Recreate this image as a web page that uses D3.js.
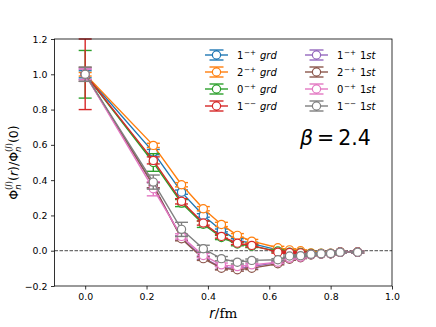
<!DOCTYPE html>
<html>
<head>
<meta charset="utf-8">
<script src="https://cdn.jsdelivr.net/npm/d3@7"></script>
<style>
  body { margin: 0; background: #fff; }
  svg { font-family: "DejaVu Sans", sans-serif; }
</style>
</head>
<body>
<svg id="chart" width="436" height="327"></svg>
<script>
// r = a*sqrt(n), lattice points
const rValues = [0, 0.222, 0.314, 0.385, 0.444, 0.496, 0.543, 0.628, 0.666, 0.702, 0.736, 0.769, 0.800, 0.831, 0.888];

const blueVals   = [1.0, 0.559, 0.332, 0.200, 0.115, 0.060, 0.040, 0.005, -0.004, -0.008, -0.015, -0.015, -0.015, -0.008, -0.008];
const orangeVals = [1.0, 0.597, 0.374, 0.238, 0.149, 0.087, 0.054, 0.017, 0.005, 0.000, -0.012, -0.014, -0.014, -0.006, -0.006];
const greenVals  = [1.0, 0.500, 0.270, 0.150, 0.075, 0.038, 0.026, -0.002, -0.008, -0.010, -0.016, -0.016, -0.016, -0.008, -0.008];
const redVals    = [1.0, 0.512, 0.280, 0.157, 0.081, 0.043, 0.030, -0.008, -0.010, -0.012, -0.018, -0.017, -0.017, -0.008, -0.008];
const purpleVals = [1.0, 0.370, 0.072, -0.040, -0.095, -0.100, -0.090, -0.066, -0.045, -0.038, -0.022, -0.018, -0.017, -0.008, -0.008];
const brownVals  = [1.0, 0.372, 0.068, -0.045, -0.099, -0.108, -0.099, -0.074, -0.048, -0.040, -0.024, -0.019, -0.017, -0.009, -0.009];
const pinkVals   = [1.0, 0.351, 0.081, -0.027, -0.080, -0.090, -0.080, -0.065, -0.042, -0.036, -0.021, -0.017, -0.016, -0.008, -0.008];
const grayVals   = [1.0, 0.389, 0.121, 0.011, -0.045, -0.065, -0.055, -0.051, -0.030, -0.028, -0.020, -0.017, -0.016, -0.008, -0.008];

const blueErr   = [0.020, 0.015, 0.012, 0.010, 0.008, 0.008, 0.008, 0.006, 0.006, 0.005, 0.005, 0.005, 0.005, 0.005, 0.005];
const orangeErr = [0.010, 0.012, 0.012, 0.012, 0.012, 0.010, 0.010, 0.008, 0.006, 0.005, 0.005, 0.005, 0.005, 0.005, 0.005];
const greenErr  = [0.135, 0.050, 0.020, 0.018, 0.012, 0.010, 0.008, 0.006, 0.006, 0.005, 0.005, 0.005, 0.005, 0.005, 0.005];
const redErr    = [0.200, 0.020, 0.015, 0.012, 0.010, 0.008, 0.008, 0.006, 0.006, 0.005, 0.005, 0.005, 0.005, 0.005, 0.005];
const purpleErr = [0.030, 0.015, 0.012, 0.010, 0.010, 0.008, 0.008, 0.006, 0.006, 0.005, 0.005, 0.005, 0.005, 0.005, 0.005];
const brownErr  = [0.040, 0.015, 0.012, 0.010, 0.010, 0.008, 0.008, 0.006, 0.006, 0.005, 0.005, 0.005, 0.005, 0.005, 0.005];
const pinkErr   = [0.030, 0.040, 0.015, 0.012, 0.010, 0.008, 0.008, 0.006, 0.006, 0.005, 0.005, 0.005, 0.005, 0.005, 0.005];
const grayErr   = [0.040, 0.040, 0.040, 0.020, 0.012, 0.010, 0.008, 0.006, 0.006, 0.005, 0.005, 0.005, 0.005, 0.005, 0.005];

const seriesNames = ['1', '2', '0', '1', '1', '2', '0', '1'];
const seriesParity = ['\u2212+', '\u2212+', '\u2212+', '\u2212\u2212', '\u2212+', '\u2212+', '\u2212+', '\u2212\u2212'];
const seriesState = ['grd', 'grd', 'grd', 'grd', '1st', '1st', '1st', '1st'];
const seriesColors = ['#1f77b4', '#ff7f0e', '#2ca02c', '#d62728', '#9467bd', '#8c564b', '#e377c2', '#7f7f7f'];
const seriesVals = [blueVals, orangeVals, greenVals, redVals, purpleVals, brownVals, pinkVals, grayVals];
const seriesErrs = [blueErr, orangeErr, greenErr, redErr, purpleErr, brownErr, pinkErr, grayErr];

const xTicks = [0.0, 0.2, 0.4, 0.6, 0.8, 1.0];
const yTicks = [-0.2, 0.0, 0.2, 0.4, 0.6, 0.8, 1.0, 1.2];

const svg = d3.select('#chart');
const margin = { left: 54.5, right: 392, top: 39, bottom: 286 };

const x = d3.scaleLinear().domain([-0.1, 1.0]).range([margin.left, margin.right]);
const y = d3.scaleLinear().domain([-0.2, 1.2]).range([margin.bottom, margin.top]);

const fmt = v => d3.format('.1f')(v).replace('-', '\u2212');

// axes
const xAxis = svg.append('g')
  .attr('transform', `translate(0, ${margin.bottom})`)
  .call(d3.axisBottom(x).tickValues(xTicks).tickFormat(fmt).tickSizeOuter(0).tickSize(3.5).tickPadding(3.5));
const yAxis = svg.append('g')
  .attr('transform', `translate(${margin.left}, 0)`)
  .call(d3.axisLeft(y).tickValues(yTicks).tickFormat(fmt).tickSizeOuter(0).tickSize(3.5).tickPadding(3.5));
[xAxis, yAxis].forEach(a => {
  a.select('.domain').remove();
  a.selectAll('text').attr('font-size', 9.4).attr('fill', '#000').attr('font-family', 'DejaVu Sans');
  a.selectAll('line').attr('stroke', '#000').attr('stroke-width', 0.8);
});

// zero line
svg.append('line')
  .attr('x1', margin.left).attr('x2', margin.right)
  .attr('y1', y(0)).attr('y2', y(0))
  .attr('stroke', '#333').attr('stroke-width', 0.9)
  .attr('stroke-dasharray', '3.5,1.5');

// series
const cap = 6.5;
seriesVals.forEach((vals, i) => {
  const color = seriesColors[i];
  const errs = seriesErrs[i];
  const g = svg.append('g');
  const pts = rValues.map((r, j) => ({ r, v: vals[j], e: errs[j] }));
  g.append('path')
    .datum(pts)
    .attr('fill', 'none')
    .attr('stroke', color)
    .attr('stroke-width', 1.4)
    .attr('d', d3.line().x(d => x(d.r)).y(d => y(d.v)));
  const eb = g.selectAll('g.err').data(pts).enter().append('g')
    .attr('stroke', color).attr('stroke-width', 1.4);
  eb.append('line')
    .attr('x1', d => x(d.r)).attr('x2', d => x(d.r))
    .attr('y1', d => y(d.v - d.e)).attr('y2', d => y(d.v + d.e));
  eb.append('line')
    .attr('x1', d => x(d.r) - cap).attr('x2', d => x(d.r) + cap)
    .attr('y1', d => y(d.v - d.e)).attr('y2', d => y(d.v - d.e));
  eb.append('line')
    .attr('x1', d => x(d.r) - cap).attr('x2', d => x(d.r) + cap)
    .attr('y1', d => y(d.v + d.e)).attr('y2', d => y(d.v + d.e));
  g.selectAll('circle').data(pts).enter().append('circle')
    .attr('cx', d => x(d.r)).attr('cy', d => y(d.v))
    .attr('r', 4.1)
    .attr('fill', '#fff')
    .attr('stroke', color)
    .attr('stroke-width', 1.2);
});

// frame
svg.append('rect')
  .attr('x', margin.left).attr('y', margin.top)
  .attr('width', margin.right - margin.left).attr('height', margin.bottom - margin.top)
  .attr('fill', 'none').attr('stroke', '#000').attr('stroke-width', 0.8);

// legend
const legend = svg.append('g');
seriesColors.forEach((color, i) => {
  const col = Math.floor(i / 4), row = i % 4;
  const hx = col === 0 ? 216.5 : 316.5;
  const hy = 55 + row * 17;
  const item = legend.append('g');
  item.append('line')
    .attr('x1', hx - 11.5).attr('x2', hx + 11.5).attr('y1', hy).attr('y2', hy)
    .attr('stroke', color).attr('stroke-width', 1.4);
  item.append('line')
    .attr('x1', hx).attr('x2', hx).attr('y1', hy - 5).attr('y2', hy + 5)
    .attr('stroke', color).attr('stroke-width', 1.4);
  [hy - 5, hy + 5].forEach(cy => {
    item.append('line')
      .attr('x1', hx - 7).attr('x2', hx + 7).attr('y1', cy).attr('y2', cy)
      .attr('stroke', color).attr('stroke-width', 1.4);
  });
  item.append('circle')
    .attr('cx', hx).attr('cy', hy).attr('r', 4.1)
    .attr('fill', '#fff').attr('stroke', color).attr('stroke-width', 1.2);
  const t = item.append('text')
    .attr('x', hx + 20.5).attr('y', hy + 3.8)
    .attr('font-size', 10).attr('fill', '#000');
  t.append('tspan').text(seriesNames[i]);
  t.append('tspan').attr('font-size', 7.2).attr('dy', -4.2).attr('dx', 0.5).text(seriesParity[i]);
  const st = seriesState[i];
  if (st === 'grd') {
    t.append('tspan').attr('dy', 4.2).attr('dx', 4).attr('font-style', 'italic').text('grd');
  } else {
    t.append('tspan').attr('dy', 4.2).attr('dx', 4).text('1');
    t.append('tspan').attr('font-style', 'italic').text('st');
  }
});

// beta label
const beta = svg.append('text')
  .attr('x', 300).attr('y', 145)
  .attr('font-size', 20.5).attr('fill', '#000');
beta.append('tspan').attr('font-style', 'italic').text('\u03b2');
beta.append('tspan').attr('dx', 4).text('=');
beta.append('tspan').attr('dx', 4).text('2.4');

// x label
const xl = svg.append('text')
  .attr('x', (margin.left + margin.right) / 2).attr('y', 318)
  .attr('text-anchor', 'middle').attr('font-size', 13.5).attr('fill', '#000');
xl.append('tspan').attr('font-style', 'italic').attr('font-family', 'DejaVu Sans').text('r');
xl.append('tspan').attr('font-family', 'DejaVu Serif').text('/fm');

// y label
const yl = svg.append('text')
  .attr('transform', `translate(17.5, ${(margin.top + margin.bottom) / 2}) rotate(-90)`)
  .attr('text-anchor', 'middle').attr('font-size', 12.5).attr('fill', '#000');
yl.append('tspan').text('\u03a6');
yl.append('tspan').attr('font-size', 8.5).attr('font-style', 'italic').attr('dy', 3.2).text('n');
yl.append('tspan').attr('font-size', 8.5).attr('dy', -8.8).attr('dx', -5.5).text('(');
yl.append('tspan').attr('font-size', 8.5).attr('font-style', 'italic').text('l');
yl.append('tspan').attr('font-size', 8.5).text(')');
yl.append('tspan').attr('dy', 5.6).text('(');
yl.append('tspan').attr('font-style', 'italic').text('r');
yl.append('tspan').text(')/\u03a6');
yl.append('tspan').attr('font-size', 8.5).attr('font-style', 'italic').attr('dy', 3.2).text('n');
yl.append('tspan').attr('font-size', 8.5).attr('dy', -8.8).attr('dx', -5.5).text('(');
yl.append('tspan').attr('font-size', 8.5).attr('font-style', 'italic').text('l');
yl.append('tspan').attr('font-size', 8.5).text(')');
yl.append('tspan').attr('dy', 5.6).text('(0)');
</script>
</body>
</html>
